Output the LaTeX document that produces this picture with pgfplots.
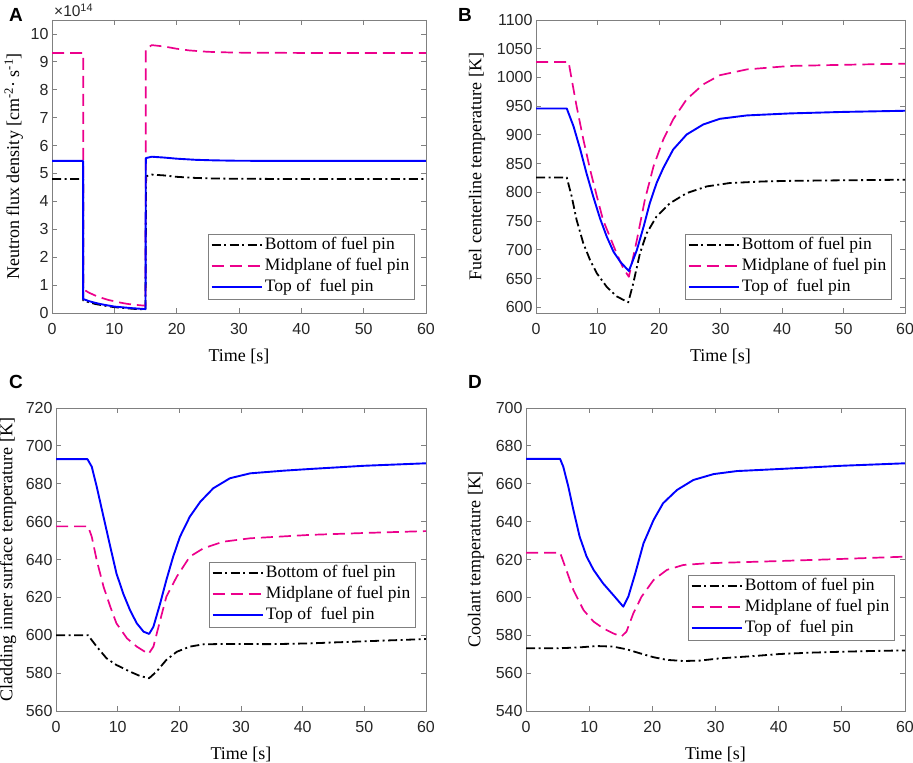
\documentclass[border=0pt]{standalone}
\usepackage{fontspec}
\setmainfont{Liberation Serif}
\setsansfont{Liberation Sans}
\usepackage{pgfplots}
\pgfplotsset{compat=1.18}
\definecolor{axgray}{gray}{0.5}
\definecolor{tickc}{gray}{0.15}
\tikzset{
 botS/.style={black, line width=1.8pt, line join=round, dash pattern=on 9pt off 3.5pt on 2pt off 3.5pt},
 midS/.style={magenta, line width=1.7pt, line join=round, dash pattern=on 12pt off 6pt},
 topS/.style={blue, line width=1.9pt, line join=round},
}
\pgfplotsset{
 myaxis/.style={
  scale only axis, anchor=south west, xmin=0, xmax=60, xtick={0,10,...,60},
  tick align=inside, major tick length=5pt,
  axis line style={axgray, line width=0.8pt},
  every tick/.style={axgray, line width=0.8pt},
  tick label style={font=\sffamily\fontsize{16}{19}\selectfont, text=tickc},
  /pgf/number format/assume math mode=true,
  /pgf/number format/set thousands separator={},
  xticklabel style={yshift=-7pt},
  label style={font=\fontsize{18}{21}\selectfont},
  xlabel={Time [s]},
  xlabel style={at={(axis description cs:0.5,0)},anchor=center,yshift=-43pt},
  legend cell align=left,
  legend style={at={(1,0)}, anchor=south east, draw=axgray, fill=white,
    font=\fontsize{17.5}{20}\selectfont, inner xsep=2pt, inner ysep=3pt, row sep=4pt,
    nodes={inner xsep=2.5pt, inner ysep=0pt, text height=12.5pt, text depth=4.5pt}},
 },
 bot/.style={botS, legend image code/.code={\draw[botS] (0pt,0pt) -- (50pt,0pt);}},
 mid/.style={midS, legend image code/.code={\draw[midS] (0pt,0pt) -- (50pt,0pt);}},
 top/.style={topS, legend image code/.code={\draw[topS] (0pt,0pt) -- (50pt,0pt);}},
}
\begin{document}
\begin{tikzpicture}
\path[use as bounding box] (0,0) rectangle (913pt,763pt);
% ---------------- A
\begin{axis}[myaxis, at={(52pt,450pt)}, width=374pt, height=293pt,
  ymin=0, ymax=10.5, ytick={0,1,...,10},
  ylabel={Neutron flux density [cm\textsuperscript{-2}· s\textsuperscript{-1}]},
  ylabel style={at={(axis description cs:-0.102,0.5)},anchor=center},
  legend style={xshift=-12pt,yshift=14pt}]
\addplot[bot] coordinates {(0,4.8)(5,4.8)(5,0.45)(6,0.38)(7,0.32)(8,0.28)(9,0.24)(10,0.21)(11,0.19)(12,0.17)(13,0.15)(14,0.14)(15,0.13)(15.1,4.9)(16,4.96)(18,4.93)(20,4.88)(23,4.84)(26,4.82)(30,4.81)(40,4.8)(60,4.8)};
\addlegendentry{Bottom of fuel pin}
\addplot[mid] coordinates {(0,9.32)(5,9.32)(5,0.85)(6,0.72)(7,0.62)(8,0.54)(9,0.47)(10,0.42)(11,0.37)(12,0.33)(13,0.30)(14,0.28)(15,0.26)(15.05,9.45)(16,9.6)(18,9.55)(20,9.47)(22,9.41)(25,9.36)(28,9.34)(30,9.33)(40,9.32)(60,9.32)};
\addlegendentry{Midplane of fuel pin}
\addplot[top] coordinates {(0,5.45)(5,5.45)(5,0.5)(6,0.42)(7,0.36)(8,0.31)(9,0.27)(10,0.23)(11,0.21)(12,0.19)(13,0.17)(14,0.155)(15,0.14)(15.05,5.55)(16,5.6)(18,5.57)(20,5.53)(23,5.49)(26,5.47)(30,5.455)(40,5.45)(60,5.45)};
\addlegendentry{Top of \ fuel pin}
\end{axis}
% ---------------- B
\begin{axis}[myaxis, at={(536pt,450pt)}, width=369pt, height=293pt,
  ymin=590, ymax=1100, ytick={600,650,...,1100},
  ylabel={Fuel centerline temperature [K]},
  ylabel style={at={(axis description cs:-0.16,0.5)},anchor=center},
  legend style={xshift=-14pt,yshift=14pt}]
\addplot[bot] coordinates {(0,826)(5,826)(5.8,793)(6.6,752)(7.7,711)(8.8,682)(9.9,659)(11.5,635.5)(13.1,619)(15,608.5)(15.8,641)(16.9,693.8)(18,728.8)(19.6,758)(21.8,781.2)(24.5,798.7)(27.8,810.4)(31.5,816.2)(37,819)(41.3,820)(50,821)(60,822)};
\addlegendentry{Bottom of fuel pin}
\addplot[mid] coordinates {(0,1027)(5.3,1027)(5.8,997)(6.6,950)(7.7,892)(8.8,839.5)(9.9,793)(10.9,752)(12,723)(13.1,694)(14.2,667.6)(15.1,653)(16.4,717)(17.7,787)(19.1,845)(20.7,892)(22.3,927)(24.5,962)(27.2,988)(29.9,1003.9)(34.3,1014)(41.3,1020)(50,1022)(60,1024)};
\addlegendentry{Midplane of fuel pin}
\addplot[top] coordinates {(0,946)(5,946)(6.1,915)(7.2,874.5)(8.2,833.7)(9.3,792.9)(10.4,755)(11.5,723)(12.6,696.7)(13.7,679.2)(15.1,663)(16.4,699.6)(17.5,740.4)(18.5,781)(19.6,816)(20.7,842.4)(22.3,874.5)(24.5,900.7)(27.2,918.2)(29.9,928)(34.3,933.9)(41.3,937.4)(50,940)(60,942)};
\addlegendentry{Top of \ fuel pin}
\end{axis}
% ---------------- C
\begin{axis}[myaxis, at={(56pt,52pt)}, width=370pt, height=303pt,
  ymin=560, ymax=720, ytick={560,580,...,720},
  ylabel={Cladding inner surface temperature [K]},
  ylabel style={at={(axis description cs:-0.13,0.5)},anchor=center},
  legend style={xshift=-11pt,yshift=84pt}]
\addplot[bot] coordinates {(0,600)(5.2,600)(6.6,594)(8.2,587.8)(9.8,584.3)(12,580.8)(13.6,578.5)(15.1,577.3)(16.3,580.8)(17.9,587)(19.6,591.3)(21.7,594)(23.9,595.2)(27.1,595.4)(35,595.3)(41.2,595.7)(45,596.2)(50,596.8)(55,597.4)(60,598)};
\addlegendentry{Bottom of fuel pin}
\addplot[mid] coordinates {(0,657.5)(5.2,657.5)(5.8,652)(6.6,639.7)(7.7,625.7)(8.8,615.1)(9.8,606.3)(11.5,598.4)(13.1,594)(15,590.1)(15.8,594)(16.9,608)(17.9,620.4)(19.6,631)(21.7,641.5)(23.9,645.9)(27.1,649.4)(31.5,651.2)(41.2,653)(50,654)(60,655)};
\addlegendentry{Midplane of fuel pin}
\addplot[top] coordinates {(0,693)(5.1,693)(5.8,689)(6.6,678.5)(7.7,662.6)(8.8,646.8)(9.8,632.7)(10.9,622)(12,613.3)(13.1,606.3)(14.2,601.9)(15.1,600.7)(15.8,604.5)(16.9,616.9)(17.9,629.2)(19,641.5)(20.1,652)(21.7,662.6)(23.4,670.5)(25.5,677.6)(28.2,682.9)(31.5,685.5)(36.9,686.9)(41.2,687.8)(50,689.5)(60,690.8)};
\addlegendentry{Top of \ fuel pin}
\end{axis}
% ---------------- D
\begin{axis}[myaxis, at={(526pt,52pt)}, width=379pt, height=303pt,
  ymin=540, ymax=700, ytick={540,560,...,700},
  ylabel={Coolant temperature [K]},
  ylabel style={at={(axis description cs:-0.132,0.5)},anchor=center},
  legend style={xshift=-11pt,yshift=71pt}]
\addplot[bot] coordinates {(0,573.1)(5,573.1)(8.5,573.6)(11.2,574.3)(13.8,574)(15.9,572.6)(18,570.5)(20.2,568.4)(22.3,567)(24.9,566.4)(27.5,566.6)(30.7,567.8)(36,569)(40.2,570.1)(45,570.8)(50,571.3)(55,571.7)(60,572)};
\addlegendentry{Bottom of fuel pin}
\addplot[mid] coordinates {(0,623.6)(5.4,623.6)(6.2,616.2)(7.5,603.9)(9.1,593.3)(10.7,587.2)(12.2,583.7)(13.8,581)(15.1,579.3)(15.9,581.9)(17,591.6)(18.3,600.4)(20.2,609.2)(22.3,614.5)(24.9,617.1)(28.6,618)(40.2,619.2)(50,620.3)(60,621.5)};
\addlegendentry{Midplane of fuel pin}
\addplot[top] coordinates {(0,673.1)(5.4,673.1)(5.9,669)(6.7,658.5)(7.5,646.2)(8.5,632)(9.6,621.5)(10.7,614.5)(12.2,607.4)(13.8,601.3)(15.4,595.1)(16.2,600.4)(17.3,612.7)(18.6,628.5)(20.2,640.9)(21.7,649.7)(23.9,656.7)(26.5,662)(29.7,665.1)(33.4,666.7)(40.2,667.8)(50,669.5)(60,670.8)};
\addlegendentry{Top of \ fuel pin}
\end{axis}
% ---------------- panel letters and multiplier
\node[anchor=base west, inner sep=0pt, font=\sffamily\bfseries\fontsize{19}{22}\selectfont] at (9pt,741pt) {A};
\node[anchor=base west, inner sep=0pt, font=\sffamily\bfseries\fontsize{19}{22}\selectfont] at (458pt,741pt) {B};
\node[anchor=base west, inner sep=0pt, font=\sffamily\bfseries\fontsize{19}{22}\selectfont] at (9pt,374pt) {C};
\node[anchor=base west, inner sep=0pt, font=\sffamily\bfseries\fontsize{19}{22}\selectfont] at (468pt,374pt) {D};
\node[anchor=base west, inner sep=0pt, font=\sffamily\fontsize{15.5}{18}\selectfont, text=tickc] at (54pt,746pt) {×10\textsuperscript{14}};
\end{tikzpicture}
\end{document}
